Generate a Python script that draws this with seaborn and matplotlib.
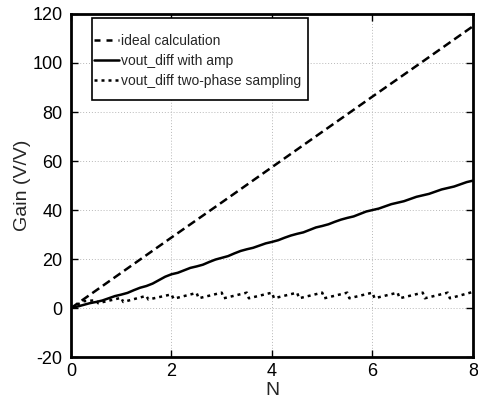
import numpy as np
import pandas as pd
import matplotlib
matplotlib.use("Agg")
import matplotlib.pyplot as plt
from matplotlib.patches import Rectangle
import seaborn as sns

# ---- data ----
n_ideal = [0, 1, 2, 3, 4, 5, 6, 7, 8]
gain_ideal = [0, 14.4, 28.8, 43.1, 57.5, 71.9, 86.3, 100.6, 115.0]

n_amp = [i * 0.125 for i in range(65)]
gain_amp = [0.0, 0.6, 1.3, 2.0,
            2.5, 3.1, 4.0, 4.9,
            5.5, 6.2, 7.3, 8.3,
            9.0, 10.0, 11.4, 12.8,
            13.8, 14.4, 15.4, 16.4,
            17.0, 17.7, 18.8, 19.8,
            20.5, 21.2, 22.3, 23.3,
            24.0, 24.6, 25.5, 26.4,
            27.0, 27.7, 28.7, 29.6,
            30.3, 30.9, 31.9, 32.9,
            33.5, 34.2, 35.2, 36.1,
            36.8, 37.4, 38.4, 39.4,
            40.0, 40.6, 41.5, 42.4,
            43.0, 43.6, 44.5, 45.4,
            46.0, 46.6, 47.5, 48.4,
            49.0, 49.6, 50.5, 51.4,
            52.0]

n_tps = [0, 0.25, 0.5, 0.54, 1.0, 1.04, 1.5, 1.54, 2.0, 2.04, 2.5, 2.54,
         3.0, 3.04, 3.5, 3.54, 4.0, 4.04, 4.5, 4.54, 5.0, 5.04, 5.5, 5.54,
         6.0, 6.04, 6.5, 6.54, 7.0, 7.04, 7.5, 7.54, 8.0]
gain_tps = [0, 2.8, 3.2, 2.0, 4.2, 2.5, 5.0, 3.5, 5.6, 3.8, 6.2, 4.0,
            6.3, 4.0, 6.3, 4.0, 6.3, 4.0, 6.3, 4.0, 6.3, 4.0, 6.3, 4.0,
            6.3, 4.0, 6.3, 4.0, 6.3, 4.0, 6.3, 4.0, 6.6]

labels = ["ideal calculation", "vout_diff with amp", "vout_diff two-phase sampling"]
xticks = [0, 2, 4, 6, 8]
yticks = [-20, 0, 20, 40, 60, 80, 100, 120]

# ---- style ----
sns.set_style("white")
plt.rcParams["font.family"] = ["Liberation Sans", "DejaVu Sans"]
plt.rcParams["axes.unicode_minus"] = False

fig = plt.figure(figsize=(4.78, 3.99), dpi=100)
ax = fig.add_axes([0.1485, 0.105, 0.841, 0.86])

lw = 1.8
sns.lineplot(x=n_ideal, y=gain_ideal, ax=ax, color="black", linewidth=lw,
             label=labels[0])
sns.lineplot(x=n_amp, y=gain_amp, ax=ax, color="black", linewidth=lw,
             label=labels[1])
sns.lineplot(x=n_tps, y=gain_tps, ax=ax, color="black", linewidth=lw,
             label=labels[2])
lines = ax.get_lines()
lines[0].set_dashes((3.4, 1.8))
lines[2].set_dashes((1.2, 1.6))

ax.set_xlim(0, 8)
ax.set_ylim(-20, 120)
ax.set_xticks(xticks)
ax.set_yticks(yticks)
ax.set_xticklabels([str(t) for t in xticks])
ax.set_yticklabels([str(t) for t in yticks])
ax.tick_params(direction="in", length=5, width=1, labelsize=13, colors="black",
               top=True, right=True, bottom=True, left=True)
ax.tick_params(axis="x", pad=4)
ax.tick_params(axis="y", pad=6)
ax.grid(True, color="#b8b8b8", linestyle=(0, (1, 2)), linewidth=0.7)
for s in ax.spines.values():
    s.set_color("black")
    s.set_linewidth(2)
    s.set_visible(True)
ax.set_xlabel("N", fontsize=14, labelpad=2)
ax.set_ylabel("Gain (V/V)", fontsize=14, labelpad=1)

leg = ax.legend(loc="upper left", bbox_to_anchor=(0.058, 0.943), fontsize=10,
                frameon=False, handlelength=1.8, handletextpad=0.15,
                labelspacing=0.45, borderpad=0, borderaxespad=0)
for h in leg.get_lines()[:1]:
    h.set_dashes((2.4, 2.4))
box = Rectangle((0.052, 0.749), 0.538, 0.239, transform=ax.transAxes,
                facecolor="white", edgecolor="black", linewidth=1.2, zorder=4)
ax.add_patch(box)
leg.set_zorder(5)

fig.savefig("out.png", dpi=100)
